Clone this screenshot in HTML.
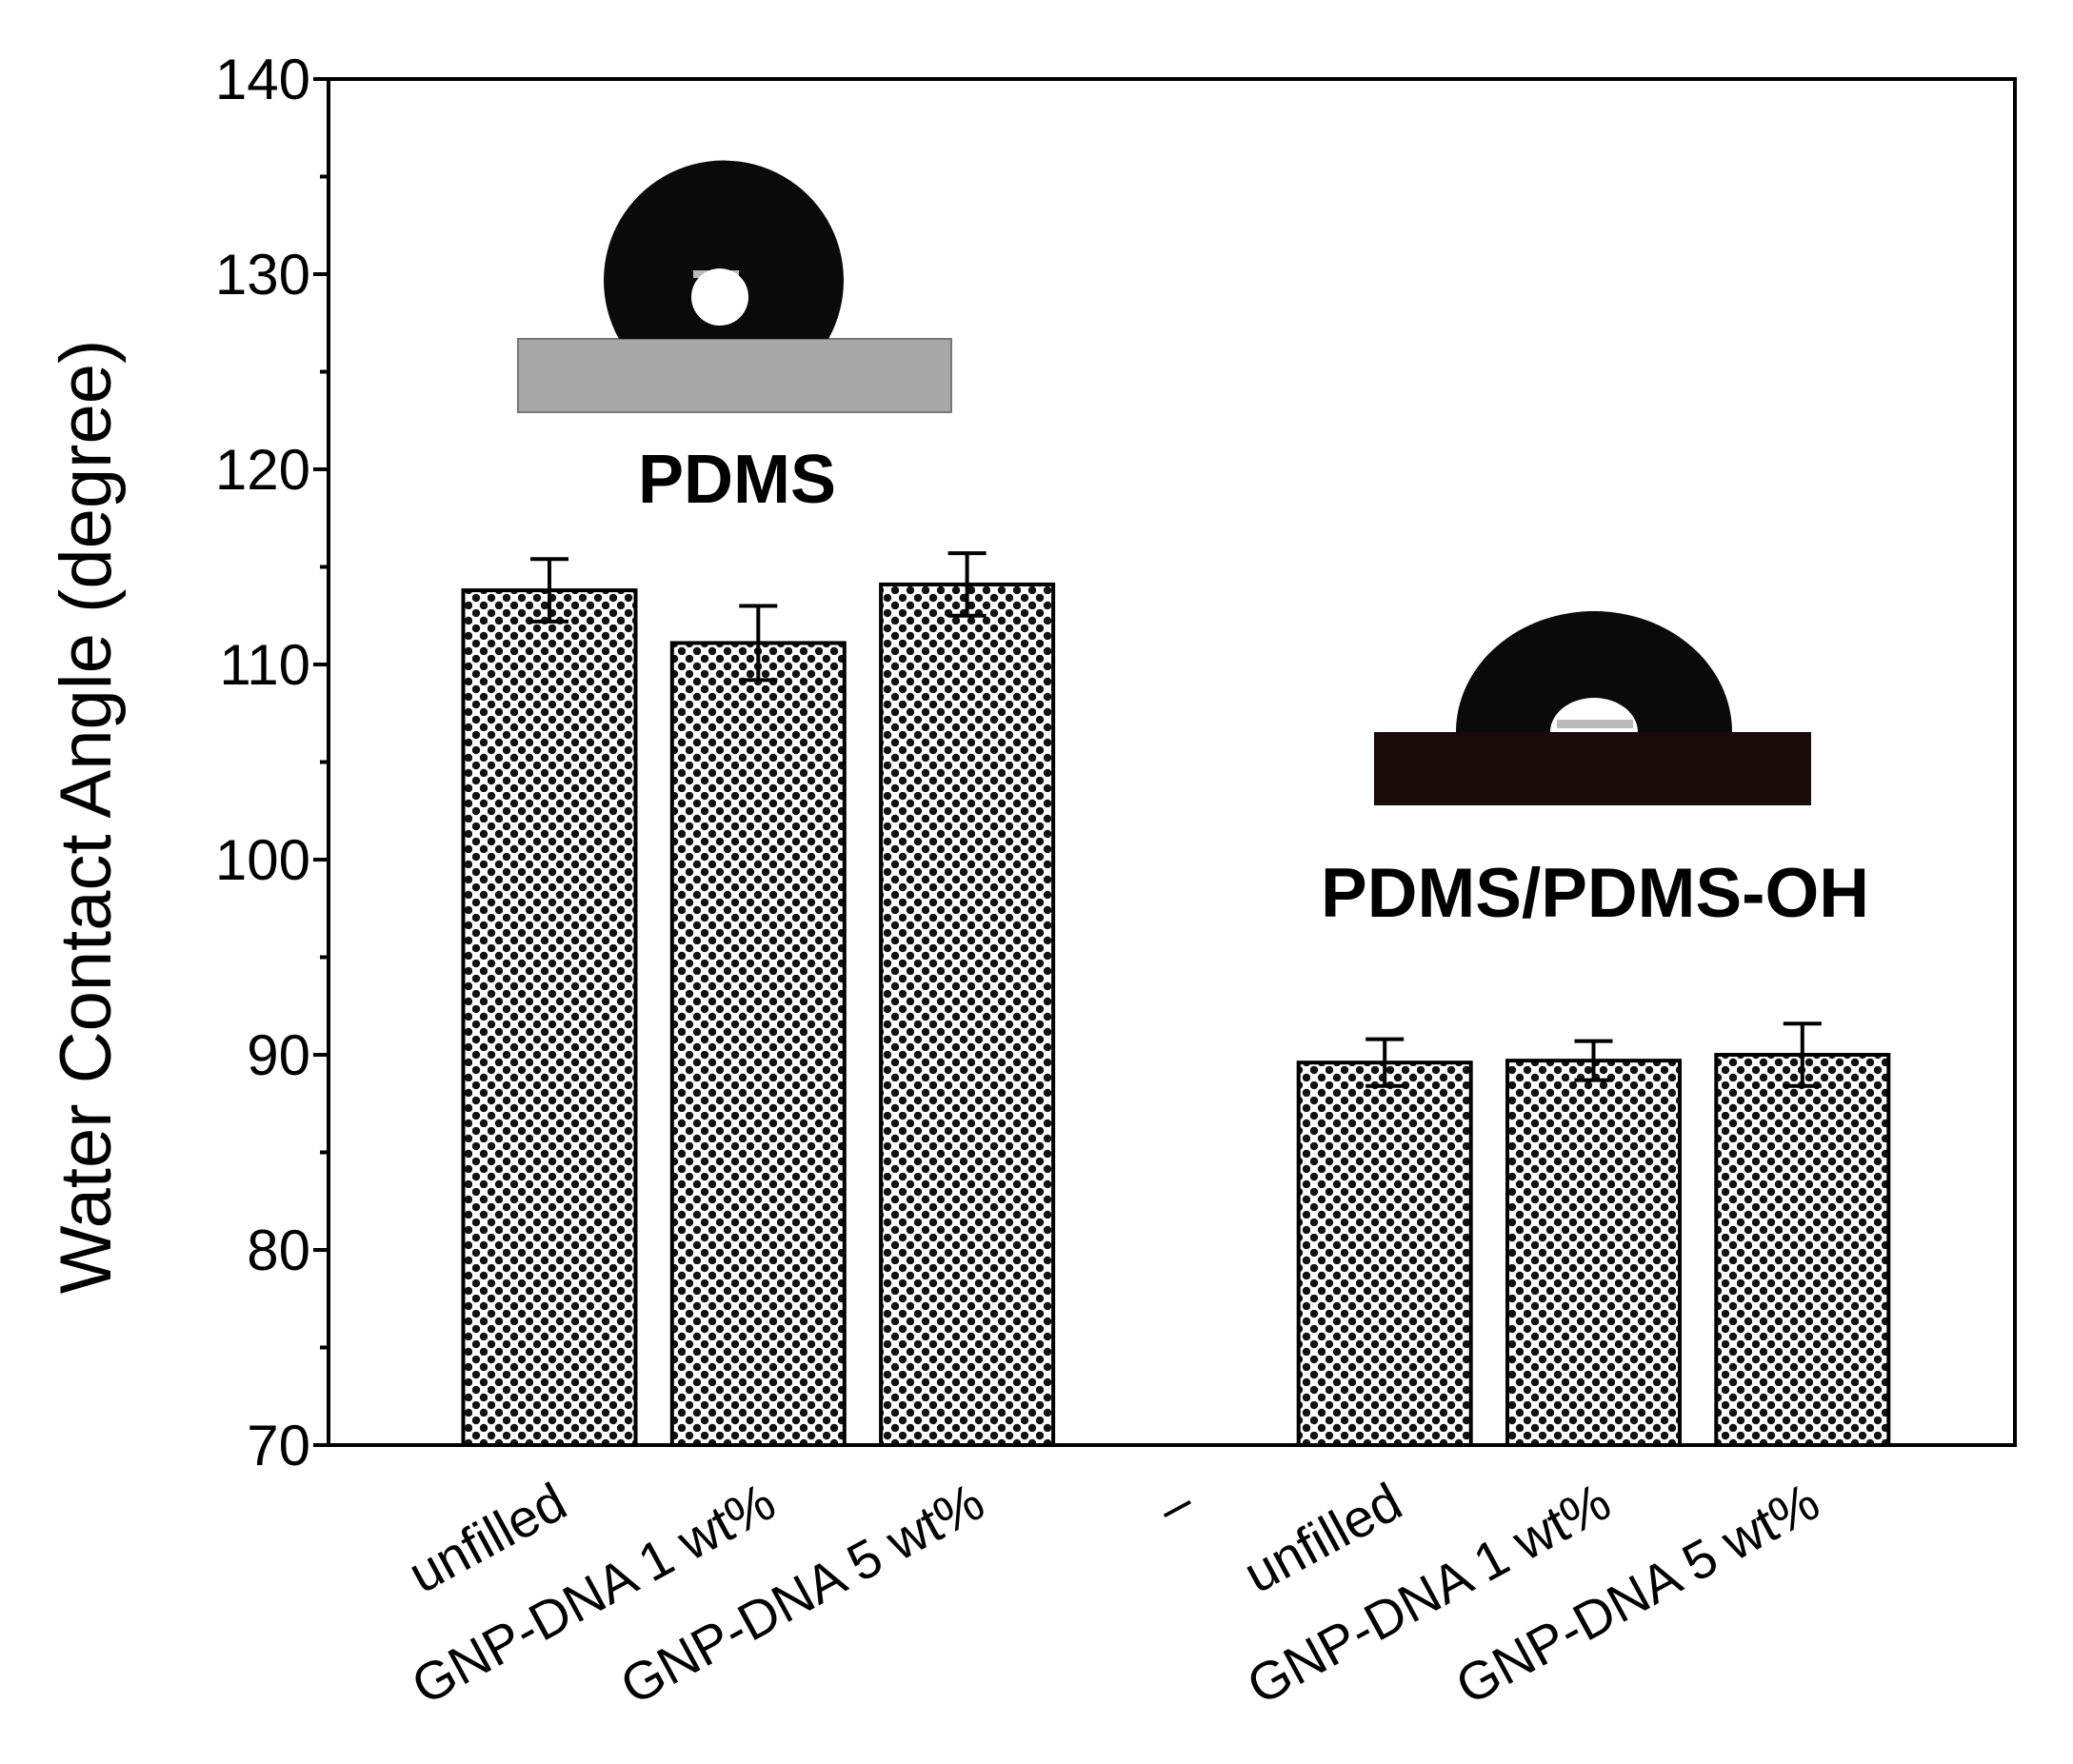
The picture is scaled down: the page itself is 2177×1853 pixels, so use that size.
<!DOCTYPE html>
<html><head><meta charset="utf-8">
<style>
html,body{margin:0;padding:0;background:#fff;}
svg{display:block;font-family:"Liberation Sans",Arial,sans-serif;}
</style></head>
<body>
<svg id="chart" width="2177" height="1853" viewBox="0 0 2177 1853" xmlns="http://www.w3.org/2000/svg">
<defs>
<pattern id="chk" width="16" height="16" patternUnits="userSpaceOnUse">
<rect width="16" height="16" fill="#fff"/>
<circle cx="4" cy="4" r="4.2" fill="#111"/>
<circle cx="12" cy="12" r="4.2" fill="#111"/>
</pattern>
</defs>
<g id="plot"></g>
<g>
<rect x="544" y="356" width="455" height="77" fill="#a8a8a8" stroke="#777" stroke-width="2"/>
<path d="M 650 356 A 126 126 0 1 1 870 356 Z" fill="#0a0a0a"/>
<rect x="728" y="284" width="48" height="8" fill="#bbb"/>
<circle cx="756" cy="312" r="30" fill="#fff"/>
<text x="774" y="528" font-size="72" font-weight="bold" text-anchor="middle">PDMS</text>
</g>
<g>
<rect x="1443" y="769" width="459" height="77" fill="#1a0a0a"/>
<path d="M 1529 769 A 145 127 0 0 1 1819 769 Z" fill="#0a0a0a"/>
<path d="M 1628 769 A 46 36 0 0 1 1720 769 Z" fill="#fff"/>
<rect x="1635" y="756" width="80" height="9" fill="#bbb"/>
<text x="1675" y="963" font-size="73" font-weight="bold" text-anchor="middle">PDMS/PDMS-OH</text>
</g>
<text transform="translate(116,858) rotate(-90)" font-size="76" text-anchor="middle">Water Contact Angle (degree)</text>
</svg>
<script>
const categories = ["unfilled","GNP-DNA 1 wt%","GNP-DNA 5 wt%","\u2013","unfilled","GNP-DNA 1 wt%","GNP-DNA 5 wt%"];
const values = [113.8,111.1,114.1,null,89.6,89.7,90.0];
const errors = [1.6,1.9,1.6,null,1.2,1.0,1.6];
const yTicks = [70,80,90,100,110,120,130,140];

const NS="http://www.w3.org/2000/svg";
const L=345,R=2116,T=83,B=1518,yMin=70,yMax=140;
const y=v=>B-(v-yMin)/(yMax-yMin)*(B-T);
const x=i=>577+i*219.3;
const bw=181;
const g=document.getElementById('plot');
function mk(tag,attrs,parent){const e=document.createElementNS(NS,tag);for(const k in attrs)e.setAttribute(k,attrs[k]);(parent||g).appendChild(e);return e;}

values.forEach((v,i)=>{
  if(v===null)return;
  const b=mk('rect',{x:x(i)-bw/2,y:y(v),width:bw,height:B-y(v),fill:'url(#chk)',stroke:'#000','stroke-width':4});
  
  
  const e=errors[i];
  const eb=mk('path',{d:`M${x(i)} ${y(v+e)}V${y(v-e)}M${x(i)-20} ${y(v+e)}H${x(i)+20}M${x(i)-20} ${y(v-e)}H${x(i)+20}`,stroke:'#000','stroke-width':4,fill:'none'});
  
  
});
const frame=mk('rect',{x:L,y:T,width:R-L,height:B-T,fill:'none',stroke:'#000','stroke-width':4});


for(let v=yMin;v<=yMax;v+=5){
  const major=v%10===0;
  const t=mk('line',{x1:L-(major?16:9),x2:L,y1:y(v),y2:y(v),stroke:'#000','stroke-width':4});
  
  
}
yTicks.forEach(v=>{
  const t=mk('text',{x:L-19,y:y(v)+21,'font-size':60,'text-anchor':'end'});
  t.textContent=v;
  
  
});
categories.forEach((c,i)=>{
  const t=mk('text',{transform:`translate(${x(i)+22},${1590}) rotate(-28.5)`,'font-size':56,'text-anchor':'end'});
  t.textContent=c;
  
  
});
</script>
</body></html>
